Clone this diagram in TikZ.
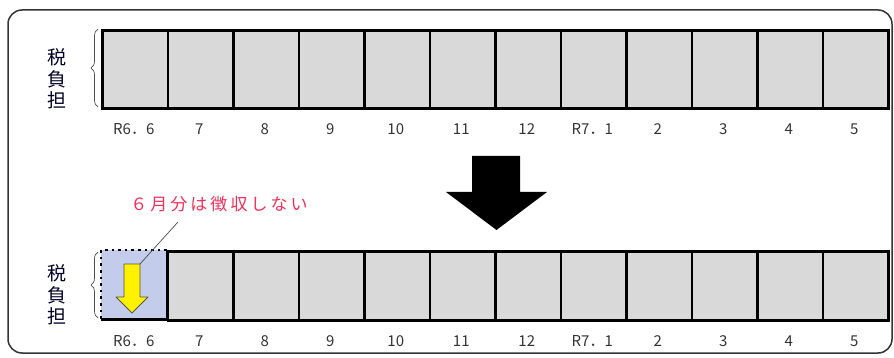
\documentclass[tikz,border=0pt]{standalone}
\usepackage{fontspec}
\newfontfamily\jp{Noto Sans CJK JP}
\newfontfamily\jpred[LetterSpace=18]{Noto Sans CJK JP}
\usetikzlibrary{decorations.pathreplacing}
\definecolor{boxgray}{HTML}{D9D9D9}
\definecolor{boxblue}{HTML}{C3CDEB}
\definecolor{redtxt}{HTML}{F0305A}
\definecolor{labgray}{HTML}{333333}
\definecolor{framegray}{HTML}{333333}
\tikzset{
  month/.style={draw=black, line width=2.6pt, fill=boxgray, minimum width=65.5pt, minimum height=#1, inner sep=0pt, anchor=north west},
  monlabel/.style={font=\jp\fontsize{15}{15}\selectfont, text=labgray, inner sep=0pt},
  vlabel/.style={font=\jp\fontsize{19}{21.5}\selectfont, text=black!85!blue, align=center, inner sep=0pt},
  bracesty/.style={decorate, decoration={brace, amplitude=7pt, aspect=0.5}, draw=black!70, line width=0.7pt},
}
\begin{document}
\begin{tikzpicture}[x=1pt,y=-1pt]
\useasboundingbox (0,0) rectangle (894,358);
% frame
\draw[framegray, line width=1.5pt, rounded corners=14pt] (8,10) rectangle (892,353);

% top row
\foreach \i/\t in {1/R6．6,2/7,3/8,4/9,5/10,6/11,7/12,8/R7．1,9/2,10/3,11/4,12/5}{
  \node[month=78pt] (t\i) at ({101+65.5*(\i-1)},29) {};
  \node[monlabel] (tl\i) at ({101+65.5*(\i-1)+32.75},129) {\t};
}
\node[vlabel] (tv) at (57,79) {税\\負\\担};
\draw[bracesty] (98,107) -- (98,29);

% big arrow
\coordinate (ba1) at (472,156);
\coordinate (ba2) at (520,156);
\coordinate (ba3) at (520,192);
\coordinate (ba4) at (547,192);
\coordinate (ba5) at (496.5,230);
\coordinate (ba6) at (446,192);
\coordinate (ba7) at (472,192);
\fill[black] (ba1) -- (ba2) -- (ba3) -- (ba4) -- (ba5) -- (ba6) -- (ba7) -- cycle;

% bottom row
\node[fill=boxblue, minimum width=65.5pt, minimum height=69pt, inner sep=0pt, anchor=north west] (b1) at (101,250) {};
\foreach \i in {2,...,12}{
  \node[month=69pt] (b\i) at ({101+65.5*(\i-1)},250) {};
}
\draw[line width=2.6pt] (b1.north east) -- (b1.south east) -- (b1.south west);
\draw[line width=2.6pt, dash pattern=on 2.6pt off 4pt] (b1.north east) -- (b1.north west) -- (b1.south west);
\foreach \i/\t in {1/R6．6,2/7,3/8,4/9,5/10,6/11,7/12,8/R7．1,9/2,10/3,11/4,12/5}{
  \node[monlabel] (bl\i) at ({101+65.5*(\i-1)+32.75},341) {\t};
}
\node[vlabel] (bv) at (57,295) {税\\負\\担};
\draw[bracesty] (98,318) -- (98,252);

% yellow arrow
\coordinate (ya1) at (124,264);
\coordinate (ya2) at (140,264);
\coordinate (ya3) at (140,297);
\coordinate (ya4) at (148,297);
\coordinate (ya5) at (132,313);
\coordinate (ya6) at (116,297);
\coordinate (ya7) at (124,297);
\draw[fill=yellow, draw=black!75!yellow, line width=0.9pt, line join=round] (ya1) -- (ya2) -- (ya3) -- (ya4) -- (ya5) -- (ya6) -- (ya7) -- cycle;

% red note
\node[font=\jpred\fontsize{17}{17}\selectfont, text=redtxt, inner sep=0pt] (note) at (219,204) {６月分は徴収しない};
\coordinate (lead) at (178,222);
\draw[black!70, line width=0.7pt] (lead) -- (ya2);
\end{tikzpicture}
\end{document}
